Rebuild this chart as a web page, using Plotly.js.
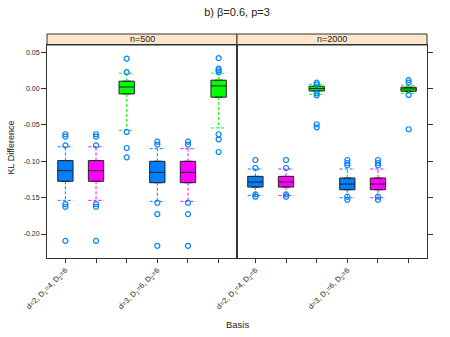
<!DOCTYPE html>
<html>
<head>
<meta charset="utf-8">
<script src="https://cdn.plot.ly/plotly-3.0.1.min.js"></script>
<style>
  html, body { margin: 0; padding: 0; background: #fff; }
  #plot { width: 450px; height: 337px; }
</style>
</head>
<body>
<div id="plot"></div>
<script>
// categories (6 boxes per panel: blue, magenta, green for each basis)
var cats = [1, 2, 3, 4, 5, 6];
var catLabels = ["d=2, D<sub>1</sub>=4, D<sub>2</sub>=6", "", "", "d=3, D<sub>1</sub>=6, D<sub>2</sub>=6", "", ""];
var panels = ["n=500", "n=2000"];

// n=500 box statistics
var q1_500  = [-0.1275, -0.1275, -0.0073, -0.1294, -0.1294, -0.0118];
var med_500 = [-0.1129, -0.1129,  0.0023, -0.1152, -0.1152,  0.0037];
var q3_500  = [-0.0990, -0.0990,  0.0102, -0.1000, -0.1000,  0.0116];
var lo_500  = [-0.1537, -0.1537, -0.0573, -0.1551, -0.1551, -0.0541];
var hi_500  = [-0.0800, -0.0800,  0.0212, -0.0826, -0.0826,  0.0212];
var out_500 = [
  [-0.0628, -0.0661, -0.0780, -0.1588, -0.1625, -0.2094],
  [-0.0628, -0.0661, -0.0780, -0.1588, -0.1625, -0.2094],
  [0.0413, 0.0226, -0.0596, -0.0817, -0.0945],
  [-0.0730, -0.0770, -0.1570, -0.1726, -0.2162],
  [-0.0730, -0.0770, -0.1570, -0.1726, -0.2162],
  [0.0419, 0.0275, 0.0253, 0.0226, -0.0628, -0.0697, -0.0872]
];

// n=2000 box statistics
var q1_2000  = [-0.1354, -0.1354, -0.0032, -0.1391, -0.1391, -0.0036];
var med_2000 = [-0.1285, -0.1285,  0.0000, -0.1313, -0.1313, -0.0004];
var q3_2000  = [-0.1207, -0.1207,  0.0033, -0.1230, -0.1230,  0.0019];
var lo_2000  = [-0.1469, -0.1469, -0.0078, -0.1501, -0.1501, -0.0063];
var hi_2000  = [-0.1106, -0.1106,  0.0060, -0.1106, -0.1106,  0.0047];
var out_2000 = [
  [-0.0982, -0.1092, -0.1455, -0.1487],
  [-0.0982, -0.1092, -0.1455, -0.1487],
  [0.0083, 0.0055, -0.0065, -0.0092, -0.0490, -0.0532],
  [-0.0982, -0.1023, -0.1055, -0.1487, -0.1529],
  [-0.0982, -0.1023, -0.1055, -0.1487, -0.1529],
  [0.0116, 0.0083, -0.0087, -0.0559]
];

var fillCols = ["#0080ff", "#ff00ff", "#00ff00"];
var pointCol = "#0080ff";
var boxW = 0.5;

function panelTraces(xa, ya, q1, med, q3, lo, hi, out) {
  var traces = [];
  for (var c = 0; c < 3; c++) {
    var idx = cats.map(function (v, i) { return i; }).filter(function (i) { return i % 3 === c; });
    // box (quartiles only, whiskers drawn separately as dashed lines)
    traces.push({
      type: "box", xaxis: xa, yaxis: ya,
      x: idx.map(i => cats[i]),
      q1: idx.map(i => q1[i]),
      median: idx.map(i => med[i]),
      q3: idx.map(i => q3[i]),
      lowerfence: idx.map(i => q1[i]),
      upperfence: idx.map(i => q3[i]),
      width: boxW, boxpoints: false,
      fillcolor: fillCols[c],
      line: { color: "#222", width: 1 },
      hoverinfo: "skip", showlegend: false
    });
    // whiskers + caps
    var wx = [], wy = [];
    idx.forEach(function (i) {
      var x = cats[i];
      wx.push(x, x, null, x, x, null);
      wy.push(q3[i], hi[i], null, q1[i], lo[i], null);
      wx.push(x - boxW / 2, x + boxW / 2, null, x - boxW / 2, x + boxW / 2, null);
      wy.push(hi[i], hi[i], null, lo[i], lo[i], null);
    });
    traces.push({
      type: "scatter", mode: "lines", xaxis: xa, yaxis: ya,
      x: wx, y: wy,
      line: { color: fillCols[c], width: 1, dash: "3px,2px" },
      hoverinfo: "skip", showlegend: false
    });
  }
  // outliers
  var ox = [], oy = [];
  out.forEach(function (arr, i) {
    arr.forEach(function (v) { ox.push(cats[i]); oy.push(v); });
  });
  traces.push({
    type: "scatter", mode: "markers", xaxis: xa, yaxis: ya,
    x: ox, y: oy,
    marker: { symbol: "circle-open", size: 5, color: pointCol, line: { width: 1.2, color: pointCol } },
    hoverinfo: "skip", showlegend: false
  });
  return traces;
}

var data = panelTraces("x", "y", q1_500, med_500, q3_500, lo_500, hi_500, out_500)
  .concat(panelTraces("x2", "y2", q1_2000, med_2000, q3_2000, lo_2000, hi_2000, out_2000));

var yTicks = [0.05, 0.00, -0.05, -0.10, -0.15, -0.20];
var yTickText = ["0.05", "0.00", "-0.05", "-0.10", "-0.15", "-0.20"];
var axisFont = { family: "Liberation Sans, Arial, sans-serif", size: 7, color: "#222" };

var xBase = {
  range: [0.4, 6.6], tickvals: cats, ticktext: catLabels, tickangle: -45,
  ticks: "outside", ticklen: 4, tickcolor: "#333",
  showline: true, mirror: true, linecolor: "#333", linewidth: 1,
  showgrid: false, zeroline: false, tickfont: { family: axisFont.family, size: 7.5, color: "#222" }
};
var plotH = 337 - 45 - 79;
var stripH = 11;

var layout = {
  width: 450, height: 337,
  margin: { l: 47, r: 23, t: 45, b: 79 },
  paper_bgcolor: "#fff", plot_bgcolor: "#fff",
  font: { family: "Liberation Sans, Arial, sans-serif", color: "#222" },
  title: { text: "b) β=0.6, p=3", x: 0.5, xref: "paper", y: 1 - 12 / 337, yanchor: "middle",
           font: { size: 11, color: "#222" } },
  xaxis: Object.assign({}, xBase, { domain: [0, 0.5], anchor: "y" }),
  xaxis2: Object.assign({}, xBase, { domain: [0.5, 1], anchor: "y2" }),
  yaxis: {
    range: [-0.233, 0.060], tickvals: yTicks, ticktext: yTickText,
    ticks: "outside", ticklen: 5, tickcolor: "#333",
    showline: true, mirror: true, linecolor: "#333", linewidth: 1,
    showgrid: false, zeroline: false, tickfont: axisFont, anchor: "x"
  },
  yaxis2: {
    matches: "y", range: [-0.233, 0.060], tickvals: yTicks, showticklabels: false,
    side: "right", ticks: "outside", ticklen: 5, tickcolor: "#333",
    showline: true, mirror: true, linecolor: "#333", linewidth: 1,
    showgrid: false, zeroline: false, anchor: "x2"
  },
  shapes: panels.map(function (p, k) {
    return {
      type: "rect", xref: "paper", yref: "paper",
      x0: k * 0.5, x1: (k + 1) * 0.5, y0: 1, y1: 1 + stripH / plotH,
      fillcolor: "#ffe5cc", line: { color: "#333", width: 1 }, layer: "below"
    };
  }),
  annotations: panels.map(function (p, k) {
    return {
      text: p, xref: "paper", yref: "paper", x: k * 0.5 + 0.25, y: 1 + stripH / 2 / plotH,
      xanchor: "center", yanchor: "middle", showarrow: false,
      font: { size: 9, color: "#222" }
    };
  }).concat([
    { text: "Basis", xref: "paper", yref: "paper", x: 0.5, y: -66 / plotH,
      xanchor: "center", yanchor: "middle", showarrow: false, font: { size: 9.5, color: "#222" } },
    { text: "KL Difference", xref: "paper", yref: "paper", x: -37 / 380, y: (plotH / 2 + 4) / plotH,
      xanchor: "center", yanchor: "middle", textangle: -90, showarrow: false, font: { size: 9, color: "#222" } }
  ])
};

Plotly.newPlot("plot", data, layout, { displayModeBar: false, staticPlot: true });
</script>
</body>
</html>
